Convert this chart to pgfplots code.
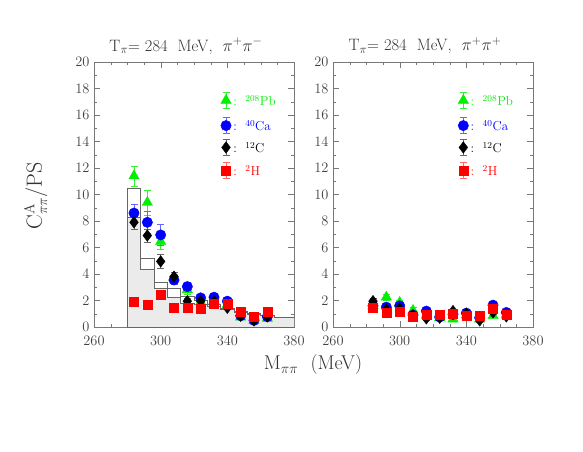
\documentclass[border=0pt]{standalone}
\usepackage{pgfplots}
\pgfplotsset{compat=1.18}
\definecolor{cgreen}{RGB}{0,240,0}
\definecolor{cblue}{RGB}{0,0,255}
\definecolor{cred}{RGB}{255,0,0}
\definecolor{axgray}{RGB}{120,120,120}
\pgfplotsset{
  myax/.style={
    scale only axis, width=200pt, height=265pt,
    xmin=260, xmax=380, ymin=0, ymax=20,
    xtick={260,300,340,380}, minor xtick={270,280,290,310,320,330,350,360,370},
    ytick={0,2,...,20}, minor ytick={1,3,...,19},
    tick align=inside, major tick length=6pt, minor tick length=3pt,
    axis line style={axgray}, tick style={axgray},
    tick label style={font=\fontsize{14}{14}\selectfont, text=black!75},
    xticklabel style={yshift=-6pt},
    yticklabel style={xshift=-1pt},
    anchor=south west,
  },
  ebar/.style={error bars/.cd, y dir=both, y explicit,
     error bar style={#1, line width=0.6pt},
     error mark options={rotate=90, mark size=3.5pt, #1, line width=0.6pt}},
  pbm/.style={only marks, mark=triangle*, mark size=6pt, color=cgreen, ebar={cgreen!80}},
  cam/.style={only marks, mark=*, mark size=5.2pt, color=cblue, ebar={cblue!60}},
  ccm/.style={only marks, mark=diamond*, mark size=5.8pt, color=black, ebar={black!60}},
  hhm/.style={only marks, mark=square*, mark size=4.4pt, color=cred, ebar={cred!60}},
}
\begin{document}
\begin{tikzpicture}[x=1pt,y=1pt]
\path[use as bounding box] (0,0) rectangle (583,451);
% left panel
\begin{axis}[myax, at={(94pt,124pt)}]
\addplot[const plot, fill=black!8, draw=black!60, line width=0.6pt] coordinates {
 (280,8.3) (288,4.35) (296,2.9) (304,2.25) (312,1.8) (320,1.7) (328,1.55)
 (336,1.3) (344,1.1) (352,0.95) (360,0.85) (368,0.7) (380,0.7)} \closedcycle;
\addplot[const plot, draw=black!60, line width=0.6pt] coordinates {
 (280,0) (280,10.5) (288,5.2) (296,3.4) (304,2.9) (312,2.3) (320,2.0) (328,1.7)
 (336,1.4) (344,1.2) (352,1.05) (360,0.9) (368,0.75) (380,0.75)};
\addplot[pbm] coordinates {
 (284,11.4) +- (0,0.75) (292,9.4) +- (0,0.95) (300,6.45) +- (0,0.6)
 (308,3.7) +- (0,0.3) (316,2.8) +- (0,0.3) (324,1.9) +- (0,0.2) (332,2.0) +- (0,0.2)
 (340,1.7) +- (0,0.2) (348,0.75) +- (0,0.15) (356,0.5) +- (0,0.15) (364,0.65) +- (0,0.15)
 (339.2,17.1) +- (0,0.6)};
\addplot[cam] coordinates {
 (284,8.6) +- (0,0.65) (292,7.9) +- (0,0.85) (300,6.95) +- (0,0.8)
 (308,3.55) +- (0,0.3) (316,3.05) +- (0,0.3) (324,2.2) +- (0,0.2) (332,2.25) +- (0,0.2)
 (340,1.95) +- (0,0.2) (348,0.85) +- (0,0.15) (356,0.5) +- (0,0.15) (364,0.78) +- (0,0.15)
 (339.2,15.2) +- (0,0.6)};
\addplot[ccm] coordinates {
 (284,7.9) +- (0,0.5) (292,6.9) +- (0,0.5) (300,4.95) +- (0,0.5)
 (308,3.8) +- (0,0.3) (316,1.95) +- (0,0.2) (324,1.95) +- (0,0.2) (332,1.95) +- (0,0.2)
 (340,1.45) +- (0,0.15) (348,0.85) +- (0,0.15) (356,0.5) +- (0,0.1) (364,0.8) +- (0,0.1)
 (339.2,13.55) +- (0,0.6)};
\addplot[hhm] coordinates {
 (284,1.9) +- (0,0.2) (292,1.7) +- (0,0.2) (300,2.45) +- (0,0.2)
 (308,1.45) +- (0,0.2) (316,1.45) +- (0,0.2) (324,1.4) +- (0,0.2) (332,1.75) +- (0,0.2)
 (340,1.75) +- (0,0.2) (348,1.15) +- (0,0.15) (356,0.75) +- (0,0.15) (364,1.15) +- (0,0.15)
 (339.2,11.8) +- (0,0.6)};
\node[anchor=west, text=cgreen, font=\fontsize{13}{13}\selectfont] at (axis cs:341.5,17.1) {:\ \ \textsuperscript{208}Pb};
\node[anchor=west, text=cblue, font=\fontsize{13}{13}\selectfont] at (axis cs:341.5,15.2) {:\ \ \textsuperscript{40}Ca};
\node[anchor=west, text=black, font=\fontsize{13}{13}\selectfont] at (axis cs:341.5,13.55) {:\ \ \textsuperscript{12}C};
\node[anchor=west, text=cred, font=\fontsize{13}{13}\selectfont] at (axis cs:341.5,11.8) {:\ \ \textsuperscript{2}H};
\end{axis}
% right panel
\begin{axis}[myax, at={(333pt,124pt)}]
\addplot[pbm] coordinates {
 (284,1.6) +- (0,0.2) (292,2.25) +- (0,0.2) (300,1.85) +- (0,0.2)
 (308,1.25) +- (0,0.2) (316,0.9) +- (0,0.15) (324,0.7) +- (0,0.15) (332,0.6) +- (0,0.15)
 (340,0.9) +- (0,0.15) (348,0.6) +- (0,0.15) (356,0.85) +- (0,0.15) (364,0.9) +- (0,0.15)
 (338.2,17.1) +- (0,0.6)};
\addplot[cam] coordinates {
 (284,1.6) +- (0,0.2) (292,1.5) +- (0,0.2) (300,1.6) +- (0,0.2)
 (308,0.9) +- (0,0.15) (316,1.2) +- (0,0.15) (324,0.75) +- (0,0.15) (332,0.95) +- (0,0.15)
 (340,1.05) +- (0,0.15) (348,0.7) +- (0,0.15) (356,1.65) +- (0,0.15) (364,1.1) +- (0,0.15)
 (338.2,15.2) +- (0,0.6)};
\addplot[ccm] coordinates {
 (284,1.95) +- (0,0.2) (292,1.3) +- (0,0.2) (300,1.4) +- (0,0.2)
 (308,0.9) +- (0,0.15) (316,0.65) +- (0,0.15) (324,0.7) +- (0,0.15) (332,1.2) +- (0,0.15)
 (340,1.0) +- (0,0.15) (348,0.5) +- (0,0.15) (356,1.1) +- (0,0.15) (364,0.8) +- (0,0.15)
 (338.2,13.55) +- (0,0.6)};
\addplot[hhm] coordinates {
 (284,1.45) +- (0,0.15) (292,1.1) +- (0,0.15) (300,1.15) +- (0,0.15)
 (308,0.8) +- (0,0.15) (316,0.9) +- (0,0.15) (324,0.95) +- (0,0.15) (332,1.0) +- (0,0.15)
 (340,0.88) +- (0,0.15) (348,0.83) +- (0,0.15) (356,1.38) +- (0,0.15) (364,0.9) +- (0,0.15)
 (338.2,11.8) +- (0,0.6)};
\node[anchor=west, text=cgreen, font=\fontsize{13}{13}\selectfont] at (axis cs:340.5,17.1) {:\ \ \textsuperscript{208}Pb};
\node[anchor=west, text=cblue, font=\fontsize{13}{13}\selectfont] at (axis cs:340.5,15.2) {:\ \ \textsuperscript{40}Ca};
\node[anchor=west, text=black, font=\fontsize{13}{13}\selectfont] at (axis cs:340.5,13.55) {:\ \ \textsuperscript{12}C};
\node[anchor=west, text=cred, font=\fontsize{13}{13}\selectfont] at (axis cs:340.5,11.8) {:\ \ \textsuperscript{2}H};
\end{axis}
% titles and labels
\node[font=\fontsize{16.5}{16.5}\selectfont, text=black!80] at (186,405) {T$_\pi$= 284\ \ MeV,\ \ $\pi^+\pi^-$};
\node[font=\fontsize{16.5}{16.5}\selectfont, text=black!80] at (425,405) {T$_\pi$= 284\ \ MeV,\ \ $\pi^+\pi^+$};
\node[font=\fontsize{20}{20}\selectfont, text=black!80] at (313,86) {M$_{\pi\pi}$\ \ (MeV)};
\node[font=\fontsize{22}{22}\selectfont, text=black!80, rotate=90] at (36,255) {C$^{\rm A}_{\pi\pi}$/PS};
\end{tikzpicture}
\end{document}
